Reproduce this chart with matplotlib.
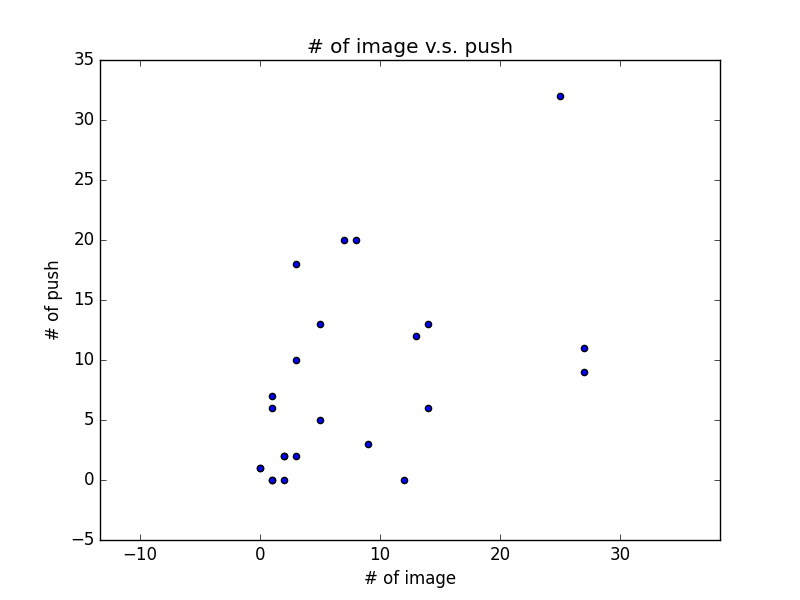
import matplotlib
matplotlib.use('Agg')
import matplotlib.pyplot as plt

# values
n_image = [25, 7, 8, 3, 5, 14, 13, 27, 3, 27, 1, 1, 14, 5, 9, 2, 3, 0, 0, 1, 1, 2, 2, 12]
n_push = [32, 20, 20, 18, 13, 13, 12, 11, 10, 9, 7, 6, 6, 5, 3, 2, 2, 1, 1, 0, 0, 0, 2, 0]

plt.style.use('classic')

fig = plt.figure(figsize=(8, 6), dpi=100)
ax = fig.add_subplot(111)
ax.scatter(n_image, n_push, s=20, c='b', edgecolors='k')

ax.set_xlim(-13.33, 38.33)
ax.set_ylim(-5, 35)
ax.set_xticks([-10, 0, 10, 20, 30])
ax.set_yticks(range(-5, 36, 5))

plt.title('# of image v.s. push')
plt.xlabel('# of image')
plt.ylabel('# of push')

plt.savefig('out.png', dpi=100)
